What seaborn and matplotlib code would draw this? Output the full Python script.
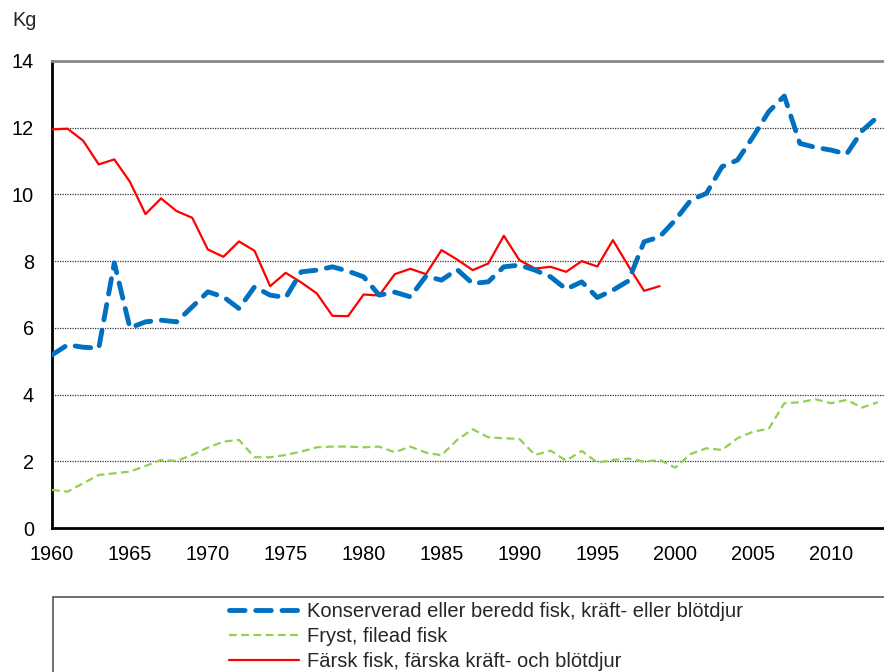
import numpy as np
import pandas as pd
import matplotlib
matplotlib.use("Agg")
import matplotlib.pyplot as plt
import seaborn as sns
from matplotlib.patches import Rectangle

years_a = list(range(1960, 2014))
konserverad = [5.19, 5.49, 5.42, 5.39, 7.95, 6.00, 6.18, 6.23, 6.18, 6.63,
               7.08, 6.93, 6.58, 7.23, 6.98, 6.91, 7.68, 7.73, 7.83, 7.70,
               7.53, 6.98, 7.07, 6.93, 7.55, 7.43, 7.75, 7.33, 7.38, 7.83,
               7.88, 7.73, 7.53, 7.16, 7.38, 6.91, 7.13, 7.41, 8.58, 8.73,
               9.23, 9.83, 10.03, 10.83, 11.03, 11.73, 12.48, 12.95, 11.53, 11.41,
               11.33, 11.21, 11.91, 12.33]
fryst = [1.14, 1.09, 1.34, 1.59, 1.64, 1.69, 1.86, 2.04, 2.01, 2.19,
         2.41, 2.59, 2.64, 2.12, 2.12, 2.19, 2.29, 2.42, 2.44, 2.44,
         2.42, 2.44, 2.27, 2.44, 2.26, 2.18, 2.64, 2.96, 2.72, 2.69,
         2.67, 2.19, 2.32, 2.02, 2.31, 1.96, 2.04, 2.08, 1.99, 2.04,
         1.81, 2.22, 2.39, 2.34, 2.69, 2.89, 2.97, 3.74, 3.77, 3.86,
         3.74, 3.84, 3.61, 3.77]
years_f = list(range(1960, 2000))
farsk = [11.95, 11.97, 11.61, 10.90, 11.05, 10.38, 9.41, 9.88, 9.50, 9.30,
         8.35, 8.13, 8.59, 8.31, 7.25, 7.65, 7.36, 7.03, 6.36, 6.35,
         7.00, 6.97, 7.61, 7.77, 7.61, 8.33, 8.05, 7.73, 7.93, 8.76,
         8.03, 7.78, 7.83, 7.68, 8.00, 7.84, 8.63, 7.85, 7.11, 7.25]

labels = ["Konserverad eller beredd fisk, kräft- eller blötdjur",
          "Fryst, filead fisk",
          "Färsk fisk, färska kräft- och blötdjur"]
xticks = [1960, 1965, 1970, 1975, 1980, 1985, 1990, 1995, 2000, 2005, 2010]
yticks = [0, 2, 4, 6, 8, 10, 12, 14]

sns.set_theme(style="white")
plt.rcParams['font.family'] = ['Liberation Sans', 'DejaVu Sans']

fig = plt.figure(figsize=(8.84, 6.72), dpi=100)
ax = fig.add_axes([52/884, 1-528/672, 832/884, (528-61)/672])

df_a = pd.DataFrame({"year": years_a, "konserverad": konserverad, "fryst": fryst})
df_f = pd.DataFrame({"year": years_f, "farsk": farsk})

for yv in [2, 4, 6, 8, 10, 12]:
    ax.axhline(yv, color="#333333", lw=0.9, ls=(0, (1, 1)), zorder=0)

sns.lineplot(data=df_a, x="year", y="konserverad", ax=ax, color="#0070C0",
             lw=3.5, label=labels[0], zorder=4)
ax.lines[-1].set_dashes((3.2, 2.2))
ax.lines[-1].set_dash_capstyle("round")
sns.lineplot(data=df_a, x="year", y="fryst", ax=ax, color="#92D050",
             lw=1.6, label=labels[1], zorder=3)
ax.lines[-1].set_dashes((3.5, 2.0))
sns.lineplot(data=df_f, x="year", y="farsk", ax=ax, color="#FF0000",
             lw=1.6, label=labels[2], zorder=3)

ax.set_xlim(1960, 2013.4)
ax.set_ylim(0, 14)
ax.set_xticks(xticks)
ax.set_yticks(yticks)
ax.set_xlabel("")
ax.set_ylabel("")
ax.tick_params(axis="both", labelsize=14.3, colors="black", direction="out",
               length=5, width=1.5)
ax.tick_params(axis="y", pad=8)
ax.tick_params(axis="x", pad=7)
for s in ["left", "bottom"]:
    ax.spines[s].set_color("black")
    ax.spines[s].set_linewidth(2)
ax.spines["top"].set_color("#888888")
ax.spines["top"].set_linewidth(2)
ax.spines["right"].set_visible(False)

fig.text(12/884, 1-21/672, "Kg", fontsize=14.3, va="center", ha="left")

handles, labs = ax.get_legend_handles_labels()
ax.get_legend().remove()
leg = fig.legend(handles, labs, loc="upper left", bbox_to_anchor=(229/884, 1-602/672),
                 frameon=False, fontsize=14.5, handlelength=3.5, handletextpad=0.35,
                 labelspacing=0.3, borderaxespad=0, borderpad=0)

fig.patches.append(Rectangle((53/884, -0.05), 0.99, 0.05 + 1-597/672,
                             transform=fig.transFigure, fill=False,
                             edgecolor="#555555", lw=1.2))

fig.savefig("out.png", dpi=100)
